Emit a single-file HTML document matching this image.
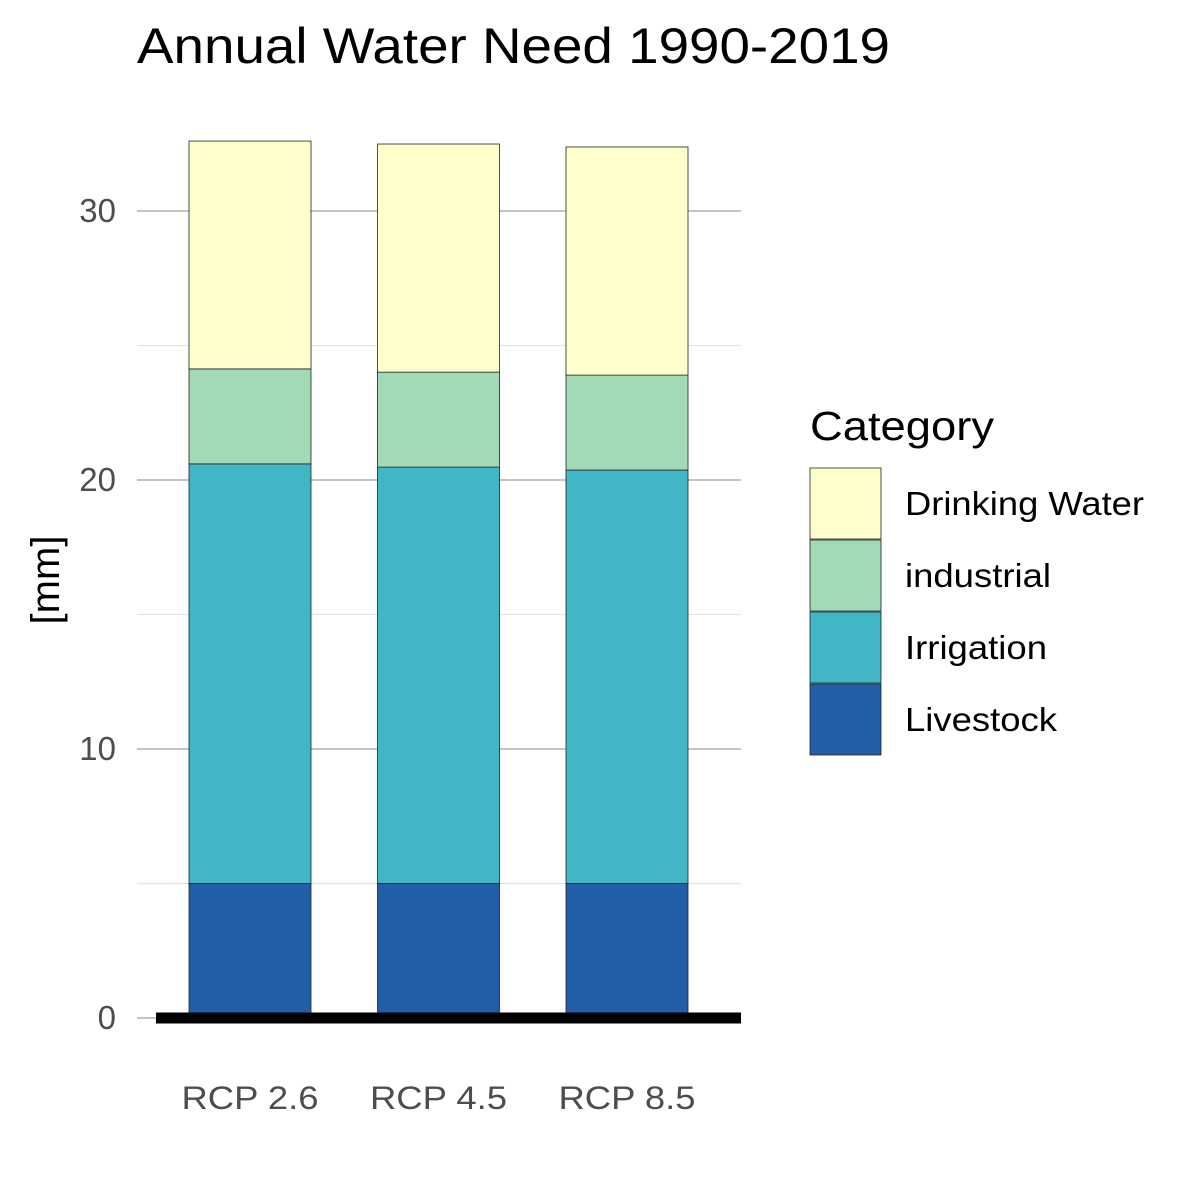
<!DOCTYPE html>
<html><head><meta charset="utf-8"><style>
body{margin:0;background:#fff}
svg{display:block;font-family:"Liberation Sans",Arial,sans-serif}
</style></head><body>
<svg id="chart" width="1191" height="1191" viewBox="0 0 1191 1191">
<text x="137" y="63" font-size="50" textLength="753" lengthAdjust="spacingAndGlyphs" fill="#000">Annual Water Need 1990-2019</text>
<text transform="translate(59,580) rotate(-90)" text-anchor="middle" font-size="40" fill="#000">[mm]</text>
<g id="grid"></g><g id="bars"></g><g id="axes"></g>
<g id="legend">
<text x="810" y="440" font-size="41" textLength="184" lengthAdjust="spacingAndGlyphs" fill="#000">Category</text>
</g>
</svg>
<script>
const categories=["RCP 2.6","RCP 4.5","RCP 8.5"];
const seriesNames=["Livestock","Irrigation","industrial","Drinking Water"];
const livestock=[5.0,5.0,5.0];
const irrigation=[15.6,15.48,15.37];
const industrial=[3.53,3.53,3.53];
const drinking=[8.47,8.48,8.48];
const majorTicks=[0,10,20,30];
const minorTicks=[5,15,25];
const colors=["#225ea8","#41b6c4","#a1dab4","#ffffcc"];
const legendWidths={"Drinking Water":239,"industrial":146,"Irrigation":142,"Livestock":152};
const NS="http://www.w3.org/2000/svg";
const y0=1018,pxPer=26.9;
function yS(v){return y0-v*pxPer;}
function xS(i){return 250+i*188.5;}
const bw=122;
function mk(tag,attrs,parent){const e=document.createElementNS(NS,tag);for(const k in attrs)e.setAttribute(k,attrs[k]);parent.appendChild(e);return e;}
const grid=document.getElementById('grid'),bars=document.getElementById('bars'),axes=document.getElementById('axes'),legend=document.getElementById('legend');
minorTicks.forEach(t=>{const l=mk('line',{x1:137,x2:741,y1:yS(t),y2:yS(t),stroke:'#e3e3e3','stroke-width':1.2},grid);

});
majorTicks.forEach(t=>{const l=mk('line',{x1:137,x2:741,y1:yS(t),y2:yS(t),stroke:'#c4c4c4','stroke-width':2},grid);


const tx=mk('text',{x:116,y:yS(t)+11,'text-anchor':'end','font-size':33,fill:'#4d4d4d'},axes);tx.textContent=t;

});
const series=[livestock,irrigation,industrial,drinking];
categories.forEach((c,i)=>{let cum=0;
series.forEach((s,j)=>{const top=cum+s[i];
const r=mk('rect',{x:xS(i)-bw/2,y:yS(top),width:bw,height:yS(cum)-yS(top),fill:colors[j],stroke:'#222','stroke-width':0.8},bars);


cum=top;});
const tx=mk('text',{x:xS(i),y:1109,'text-anchor':'middle','font-size':32,textLength:137,lengthAdjust:'spacingAndGlyphs',fill:'#4d4d4d'},axes);tx.textContent=c;

});
const base=mk('line',{x1:156,x2:741,y1:y0,y2:y0,stroke:'#000','stroke-width':11},axes);


const legOrder=[3,2,1,0];
legOrder.forEach((j,k)=>{const y=468+k*72;
const r=mk('rect',{x:810,y:y,width:71,height:71,fill:colors[j],stroke:'#222','stroke-width':0.8},legend);


const t=mk('text',{x:905,y:y+47,'font-size':33,textLength:legendWidths[seriesNames[j]],lengthAdjust:'spacingAndGlyphs',fill:'#000'},legend);t.textContent=seriesNames[j];

});
</script>
</body></html>
